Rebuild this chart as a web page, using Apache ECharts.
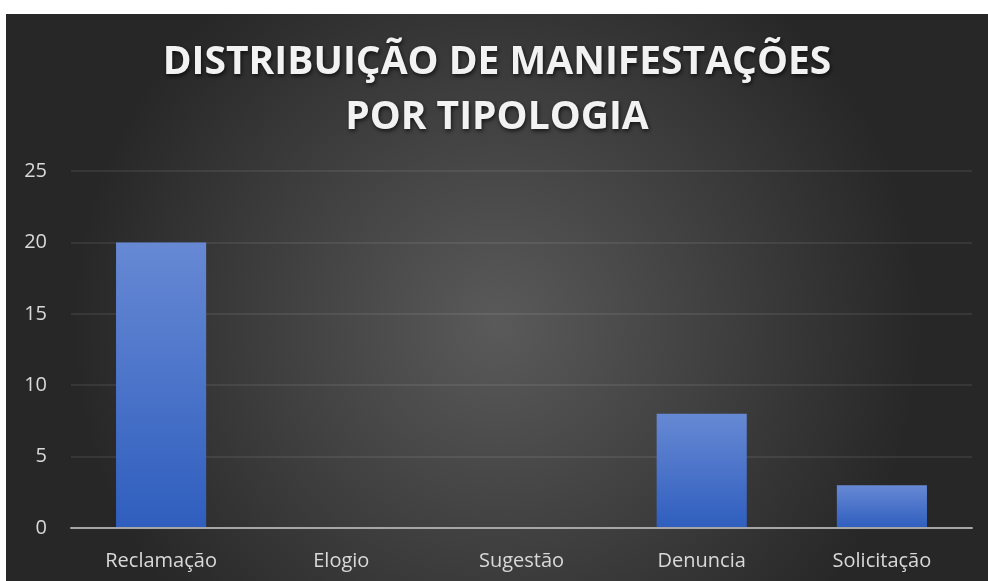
<!DOCTYPE html>
<html>
<head>
<meta charset="utf-8">
<script src="https://cdn.jsdelivr.net/npm/echarts@6/dist/echarts.min.js"></script>
<style>
  html, body { margin: 0; padding: 0; background: #fff; }
  #chart { position: absolute; left: 6px; top: 14px; width: 982px; height: 567px; }
</style>
</head>
<body>
<div id="chart"></div>
<script>
const categories = ['Reclamação', 'Elogio', 'Sugestão', 'Denuncia', 'Solicitação']
const values = [20, 0, 0, 8, 3]
const yTicks = { min: 0, max: 25, interval: 5 }

const chart = echarts.init(document.getElementById('chart'))

chart.setOption({
  backgroundColor: {
    type: 'radial', x: 0.5, y: 0.55, r: 0.75,
    colorStops: [
      { offset: 0, color: '#5a5a5a' },
      { offset: 1, color: '#272727' }
    ]
  },
  title: {
    text: 'DISTRIBUIÇÃO DE MANIFESTAÇÕES\nPOR TIPOLOGIA',
    left: 'center',
    top: 16,
    textStyle: {
      fontFamily: 'Open Sans',
      fontWeight: 'bold',
      fontSize: 39,
      lineHeight: 55,
      color: '#f2f2f2',
      textShadowColor: 'rgba(0,0,0,0.7)',
      textShadowBlur: 4,
      textShadowOffsetX: 1,
      textShadowOffsetY: 2
    }
  },
  grid: { left: 65, right: 16, top: 157, bottom: 53 },
  xAxis: {
    type: 'category',
    data: categories,
    axisTick: { show: false },
    axisLine: { lineStyle: { color: '#a6a6a6', width: 2 } },
    axisLabel: { color: '#d9d9d9', fontFamily: 'Open Sans', fontSize: 20, margin: 23 },
    z: 5
  },
  yAxis: {
    type: 'value',
    min: yTicks.min,
    max: yTicks.max,
    interval: yTicks.interval,
    axisLine: { show: false },
    axisTick: { show: false },
    axisLabel: { color: '#d9d9d9', fontFamily: 'Open Sans', fontSize: 20, margin: 24 },
    splitLine: { lineStyle: { color: 'rgba(255,255,255,0.1)', width: 1.5 } }
  },
  series: [{
    type: 'bar',
    data: values,
    barWidth: '50%',
    itemStyle: {
      color: {
        type: 'linear', x: 0, y: 0, x2: 0, y2: 1,
        colorStops: [
          { offset: 0, color: '#6789d4' },
          { offset: 1, color: '#2f5ebe' }
        ]
      },
      shadowColor: 'rgba(0,0,0,0.45)',
      shadowBlur: 6,
      shadowOffsetX: 2,
      shadowOffsetY: 1
    }
  }]
})
</script>
</body>
</html>
